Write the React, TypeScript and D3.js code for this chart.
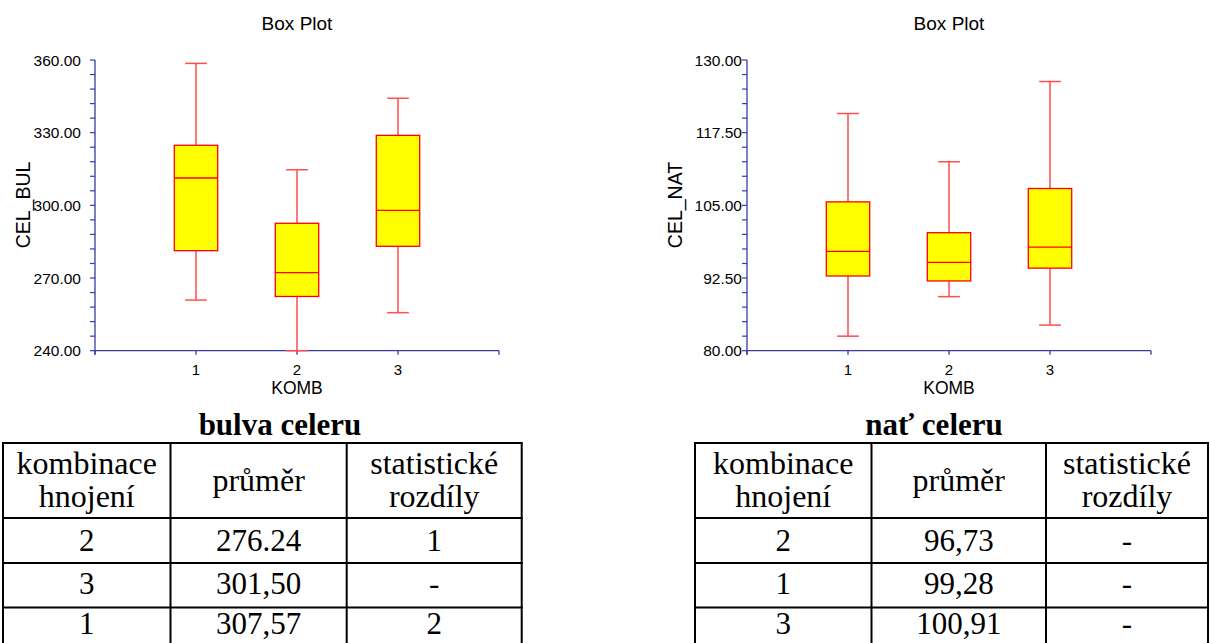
import React from 'react';
import * as d3 from 'd3';

// box plot data (min, q1, median, q3, max per KOMB group)
const categories = [1, 2, 3];

const bulvaMin = [260.9, 240.0, 255.7];
const bulvaQ1 = [281.3, 262.4, 283.1];
const bulvaMedian = [311.3, 272.2, 297.9];
const bulvaQ3 = [324.8, 292.6, 328.9];
const bulvaMax = [358.6, 314.7, 344.2];
const bulvaTicks = [240, 270, 300, 330, 360];

const natMin = [82.5, 89.3, 84.4];
const natQ1 = [92.85, 92.0, 94.2];
const natMedian = [97.1, 95.2, 97.8];
const natQ3 = [105.6, 100.3, 107.9];
const natMax = [120.8, 112.5, 126.3];
const natTicks = [80, 92.5, 105, 117.5, 130];

// tables under the charts
const tableHeader = [['kombinace', 'hnojení'], ['průměr'], ['statistické', 'rozdíly']];
const bulvaKomb = ['2', '3', '1'];
const bulvaMean = ['276.24', '301,50', '307,57'];
const bulvaDiff = ['1', '-', '2'];
const natKomb = ['2', '1', '3'];
const natMean = ['96,73', '99,28', '100,91'];
const natDiff = ['-', '-', '-'];

const SANS = '"Liberation Sans", Arial, sans-serif';
const SERIF = '"Liberation Serif", "Times New Roman", serif';
const AXIS = '#3a3aa6';

function BoxChart({ x0, yLabel, labelX, tickLabelGap, ticks, minorStep, mins, q1s, meds, q3s, maxs }) {
    const x = d3.scaleLinear().domain([0, 4]).range([x0, x0 + 404]);
    const y = d3.scaleLinear().domain([ticks[0], ticks[ticks.length - 1]]).range([350.7, 60]);
    const step = x(1) - x(0);
    const boxW = step * 0.43;
    const capW = step * 0.215;
    const minor = d3.range(ticks[0], ticks[ticks.length - 1] + minorStep / 2, minorStep);
    const fmt = d3.format('.2f');
    const cx = (x(0) + x(4)) / 2;

    return (
        <g>
            <text x={cx} y={30} textAnchor='middle' fontFamily={SANS} fontSize={19}>Box Plot</text>

            {/* y axis */}
            <line x1={x(0)} x2={x(0)} y1={y.range()[1]} y2={y.range()[0] + 4} stroke={AXIS} strokeWidth={1.3} />
            {minor.map((v, i) => (
                <line key={'m' + i} x1={x(0) - 5} x2={x(0)} y1={y(v)} y2={y(v)} stroke={AXIS} strokeWidth={1.2} />
            ))}
            {ticks.map(v => (
                <text key={'t' + v} x={x(0) - tickLabelGap} y={y(v) + 5.5} textAnchor='end'
                    fontFamily={SANS} fontSize={15.5}>{fmt(v)}</text>
            ))}
            <text transform={`translate(${labelX},${205}) rotate(-90)`} textAnchor='middle'
                fontFamily={SANS} fontSize={19.5}>{yLabel}</text>

            {/* x axis */}
            <line x1={x(0)} x2={x(4)} y1={y.range()[0]} y2={y.range()[0]} stroke={AXIS} strokeWidth={1.3} />
            {[0, 1, 2, 3, 4].map(v => (
                <line key={'x' + v} x1={x(v)} x2={x(v)} y1={y.range()[0]} y2={y.range()[0] + 4} stroke={AXIS} strokeWidth={1.3} />
            ))}
            {categories.map(c => (
                <text key={'c' + c} x={x(c)} y={374.5} textAnchor='middle' fontFamily={SANS} fontSize={15}>{c}</text>
            ))}
            <text x={cx} y={394} textAnchor='middle' fontFamily={SANS} fontSize={17.5}>KOMB</text>

            {/* boxes */}
            {categories.map((c, i) => (
                <g key={'b' + c}>
                    <line x1={x(c)} x2={x(c)} y1={y(maxs[i])} y2={y(q3s[i])} stroke='#ff4d4d' strokeWidth={1.5} />
                    <line x1={x(c)} x2={x(c)} y1={y(q1s[i])} y2={y(mins[i])} stroke='#ff4d4d' strokeWidth={1.5} />
                    <line x1={x(c) - capW / 2} x2={x(c) + capW / 2} y1={y(maxs[i])} y2={y(maxs[i])} stroke='#ff4d4d' strokeWidth={1.5} />
                    <line x1={x(c) - capW / 2} x2={x(c) + capW / 2} y1={y(mins[i])} y2={y(mins[i])} stroke='#ff4d4d' strokeWidth={1.5} />
                    <rect x={x(c) - boxW / 2} y={y(q3s[i])} width={boxW} height={y(q1s[i]) - y(q3s[i])}
                        fill='#ffff00' stroke='#ff0000' strokeWidth={1.3} />
                    <line x1={x(c) - boxW / 2} x2={x(c) + boxW / 2} y1={y(meds[i])} y2={y(meds[i])} stroke='#ff0000' strokeWidth={1.3} />
                </g>
            ))}
        </g>
    );
}

function Table({ title, titleX, cols, komb, mean, diff }) {
    const rowY = [443, 518, 563, 607.5, 652];
    const cells = [komb, mean, diff];
    const baselines = [551, 594, 634];
    return (
        <g>
            <text x={titleX} y={435} textAnchor='middle' fontFamily={SERIF} fontWeight='bold' fontSize={31}>{title}</text>
            {rowY.map((ry, i) => (
                <line key={'r' + i} x1={cols[0] - 1} x2={cols[3] + 1} y1={ry} y2={ry} stroke='#000' strokeWidth={2} />
            ))}
            {cols.map((cx, i) => (
                <line key={'c' + i} x1={cx} x2={cx} y1={rowY[0]} y2={rowY[4]} stroke='#000' strokeWidth={2} />
            ))}
            {tableHeader.map((lines, j) => {
                const mid = (cols[j] + cols[j + 1]) / 2;
                return lines.length === 1
                    ? <text key={'h' + j} x={mid} y={491} textAnchor='middle' fontFamily={SERIF} fontSize={32}>{lines[0]}</text>
                    : lines.map((t, k) => (
                        <text key={'h' + j + k} x={mid} y={474 + k * 33} textAnchor='middle' fontFamily={SERIF} fontSize={32}>{t}</text>
                    ));
            })}
            {cells.map((col, j) => col.map((t, r) => (
                <text key={'d' + j + r} x={(cols[j] + cols[j + 1]) / 2} y={baselines[r]} textAnchor='middle'
                    fontFamily={SERIF} fontSize={31}>{t}</text>
            )))}
        </g>
    );
}

export default function App() {
    return (
        <svg width={1210} height={643} style={{ position: 'absolute', left: 0, top: 0, background: '#fff' }}>
            <BoxChart x0={95} yLabel='CEL_BUL' labelX={30} tickLabelGap={14} ticks={bulvaTicks} minorStep={6}
                mins={bulvaMin} q1s={bulvaQ1} meds={bulvaMedian} q3s={bulvaQ3} maxs={bulvaMax} />
            <BoxChart x0={747} yLabel='CEL_NAT' labelX={682} tickLabelGap={5} ticks={natTicks} minorStep={2.5}
                mins={natMin} q1s={natQ1} meds={natMedian} q3s={natQ3} maxs={natMax} />
            <Table title='bulva celeru' titleX={280} cols={[3, 170.5, 346.7, 521.7]}
                komb={bulvaKomb} mean={bulvaMean} diff={bulvaDiff} />
            <Table title='nať celeru' titleX={934} cols={[695, 871.5, 1046, 1208]}
                komb={natKomb} mean={natMean} diff={natDiff} />
        </svg>
    );
}
